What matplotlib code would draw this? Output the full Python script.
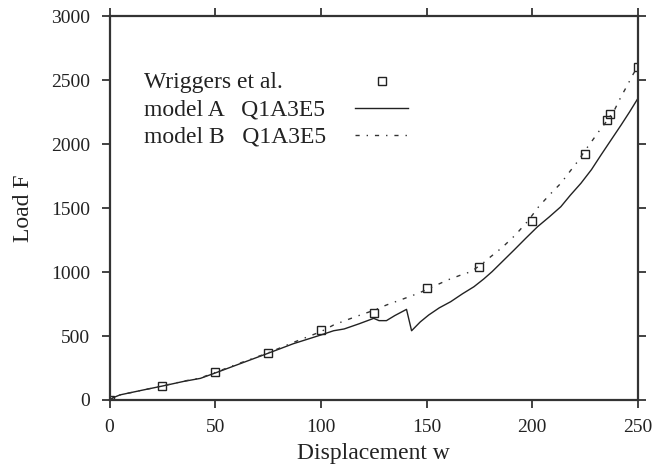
import matplotlib
matplotlib.use('Agg')
import matplotlib.pyplot as plt

plt.rcParams['font.family'] = ['Liberation Serif', 'DejaVu Serif']

# Wriggers et al. reference points
ref_w = [0, 25, 50, 75, 100, 125, 150, 175, 200, 225, 235.4, 236.9, 250]
ref_f = [0, 112, 216, 365, 545, 680, 875, 1039, 1398, 1922, 2187, 2232, 2601]

# model A Q1A3E5
a_w = [0, 2, 5, 15, 25, 35, 43, 50, 62, 75, 87, 100, 106, 111, 118, 125,
       127.5, 131, 135, 140.5, 142.9, 147, 151, 156, 161.4, 167, 172.4, 177,
       181, 185, 191.4, 197, 202.5, 208, 213.5, 218, 223, 228, 232.5, 237,
       242, 246, 250]
a_f = [0, 20, 40, 75, 109, 145, 169, 211, 285, 365, 440, 508, 541, 555, 595,
       638, 620, 620, 660, 708, 541, 610, 664, 720, 768, 830, 885, 945, 1003,
       1068, 1172, 1265, 1354, 1430, 1510, 1600, 1693, 1800, 1914, 2025, 2148,
       2250, 2357]

# model B Q1A3E5
b_w = [0, 2, 5, 15, 25, 35, 43, 50, 62, 75, 87, 100, 106, 113, 120, 125, 131,
       139, 146, 153, 160, 166, 171, 176, 180, 186, 192, 198, 203, 208, 213.5,
       218, 221.4, 225, 228, 232, 235.6, 239, 242, 245, 247.5, 250]
b_f = [0, 20, 40, 75, 110, 147, 172, 215, 290, 368, 450, 534, 586, 630, 672,
       700, 742, 790, 833, 885, 938, 975, 1003, 1060, 1115, 1195, 1289, 1400,
       1510, 1600, 1693, 1790, 1862, 1950, 2018, 2110, 2187, 2270, 2370, 2460,
       2539, 2610]

labels = ['Wriggers et al.', 'model A   Q1A3E5', 'model B   Q1A3E5']
xticks = [0, 50, 100, 150, 200, 250]
yticks = [0, 500, 1000, 1500, 2000, 2500, 3000]

fig = plt.figure(figsize=(6.53, 4.68), dpi=100)
ax = fig.add_axes([0.1677, 0.1453, 0.8093, 0.8205])

h_ref, = ax.plot(ref_w, ref_f, linestyle='none', marker='s', markersize=6,
                 markerfacecolor='none', markeredgecolor='#222222',
                 markeredgewidth=1.0)
h_a, = ax.plot(a_w, a_f, color='#222222', linewidth=1.0)
h_b, = ax.plot(b_w, b_f, color='#333333', linewidth=1.0,
               linestyle=(0, (3, 5, 1, 5)))

ax.set_xlim(0, 250)
ax.set_ylim(0, 3000)
ax.set_xticks(xticks)
ax.set_yticks(yticks)
ax.tick_params(direction='out', length=6, width=1.2, labelsize=14,
               colors='#222222', top=True, right=True, pad=8)
for s in ax.spines.values():
    s.set_linewidth(1.6)
    s.set_color('#333333')

ax.set_xlabel('Displacement w', fontsize=17, color='#222222', labelpad=5)
ax.set_ylabel('Load F', fontsize=17, color='#222222', labelpad=12)

# gnuplot style key: samples on the right, labels left aligned
leg = ax.legend([h_ref, h_a, h_b], ['', '', ''], loc='upper left',
                bbox_to_anchor=(0.4645, 0.852), frameon=False, fontsize=16,
                handlelength=2.4, handletextpad=0, labelspacing=0.3,
                borderaxespad=0, borderpad=0)
fig.canvas.draw()
W, H = fig.canvas.get_width_height()
for h, lab in zip(leg.legend_handles, labels):
    bb = h.get_window_extent()
    yc = (bb.y0 + bb.y1) / 2
    fig.text(144 / W, (yc - 7.5) / H, lab, fontsize=17, color='#222222',
             ha='left', va='baseline')

fig.savefig('out.png', dpi=100)
